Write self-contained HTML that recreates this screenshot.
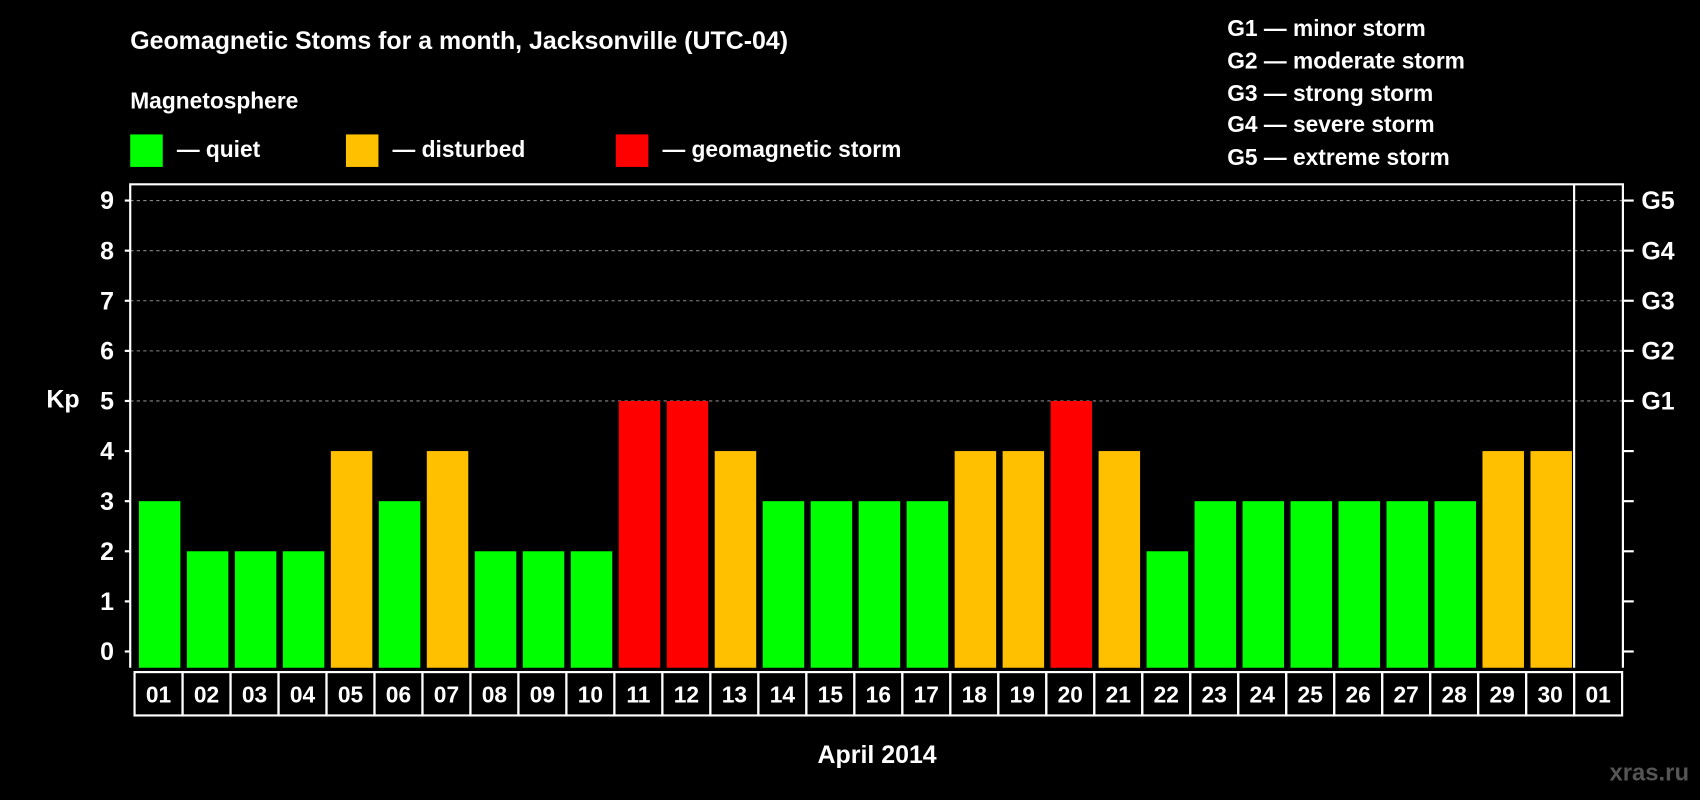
<!DOCTYPE html>
<html><head><meta charset="utf-8"><style>
html,body{margin:0;padding:0;background:#000;}
svg{display:block;font-family:"Liberation Sans",Arial,sans-serif;font-weight:bold;}
</style></head><body>
<svg id="chart" width="1700" height="800" viewBox="0 0 1568 738" xmlns="http://www.w3.org/2000/svg">
<rect width="1568" height="738" fill="#000"/>
<text x="120" y="45" fill="#fff" font-size="23">Geomagnetic Stoms for a month, Jacksonville (UTC-04)</text>
<text x="120" y="100" fill="#fff" font-size="21">Magnetosphere</text>
<g><rect x="120" y="124" width="30" height="30" fill="#00ff00"/><text x="163" y="145" fill="#fff" font-size="21">— quiet</text></g>
<g><rect x="319" y="124" width="30" height="30" fill="#ffc000"/><text x="362" y="145" fill="#fff" font-size="21">— disturbed</text></g>
<g><rect x="568" y="124" width="30" height="30" fill="#ff0000"/><text x="611" y="145" fill="#fff" font-size="21">— geomagnetic storm</text></g>
<g fill="#fff" font-size="21">
<text x="1132" y="33">G1 — minor storm</text>
<text x="1132" y="63">G2 — moderate storm</text>
<text x="1132" y="93">G3 — strong storm</text>
<text x="1132" y="122">G4 — severe storm</text>
<text x="1132" y="152">G5 — extreme storm</text>
</g>
<text x="58" y="376" fill="#fff" font-size="23" text-anchor="middle">Kp</text>
<text x="809" y="704" fill="#fff" font-size="23" text-anchor="middle">April 2014</text>
<text x="1558" y="720" fill="#555" font-size="22" text-anchor="end">xras.ru</text>
<g id="plot"></g>
</svg>
<script>
const days=["01","02","03","04","05","06","07","08","09","10","11","12","13","14","15","16","17","18","19","20","21","22","23","24","25","26","27","28","29","30","01"];
const kp=[3,2,2,2,4,3,4,2,2,2,5,5,4,3,3,3,3,4,4,5,4,2,3,3,3,3,3,3,4,4];
const yTicks=[0,1,2,3,4,5,6,7,8,9];
const gLabels=["G1","G2","G3","G4","G5"];
const NS="http://www.w3.org/2000/svg";
const g=document.getElementById('plot');
const L=120,R=1497,T=170,B=616,colW=(1452-124)/30;
const y=v=>601-v*(601-185)/9;
const xc=i=>124+i*colW;
function mk(t,a){const e=document.createElementNS(NS,t);for(const k in a)e.setAttribute(k,a[k]);g.appendChild(e);return e;}
yTicks.forEach(v=>{
  if(v>=5){const l=mk('line',{x1:L,x2:R,y1:y(v),y2:y(v),stroke:'#888','stroke-dasharray':'3,3'});
  
  }
  const t1=mk('line',{x1:L-5,x2:L,y1:y(v),y2:y(v),stroke:'#fff','stroke-width':2});
  
  
  const t2=mk('line',{x1:R,x2:R+10,y1:y(v),y2:y(v),stroke:'#fff','stroke-width':2});
  
  
  const tx=mk('text',{x:105,y:y(v)+8,fill:'#fff','font-size':23,'text-anchor':'end'});tx.textContent=v;
  
  
  if(v>=5){const gl=mk('text',{x:1514,y:y(v)+8,fill:'#fff','font-size':23});gl.textContent=gLabels[v-5];
  
  }
});
kp.forEach((v,i)=>{
  const c=v>=5?'#ff0000':v>=4?'#ffc000':'#00ff00';
  const r=mk('rect',{x:xc(i)+4,y:y(v),width:colW-6,height:B-y(v),fill:c});
  
  
});
const fr=mk('path',{d:`M${L} ${B}V${T}H${R}V${B}`,fill:'none',stroke:'#fff','stroke-width':2});


const sep=mk('line',{x1:1452,x2:1452,y1:T,y2:B,stroke:'#fff','stroke-width':2});


days.forEach((d,i)=>{
  const bx=mk('rect',{x:xc(i),y:620,width:colW,height:40,fill:'none',stroke:'#fff','stroke-width':2});
  
  
  const t=mk('text',{x:xc(i)+colW/2,y:648,fill:'#fff','font-size':21,'text-anchor':'middle'});t.textContent=d;
  
  
});
</script>
</body></html>
